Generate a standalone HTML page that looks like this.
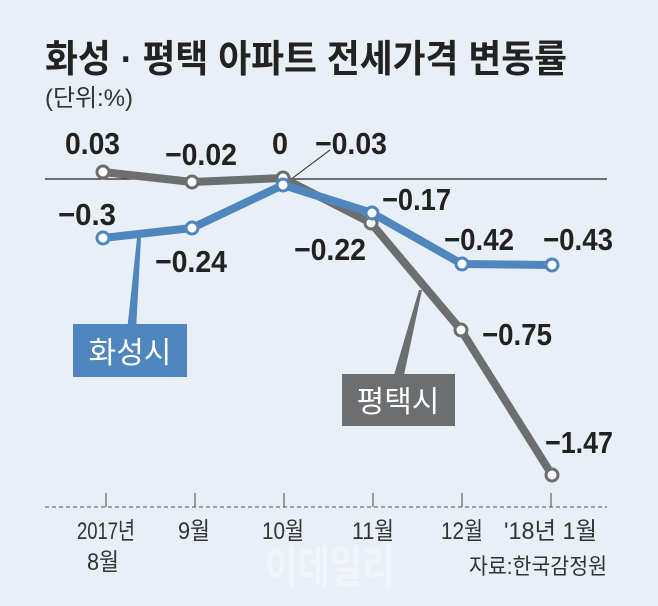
<!DOCTYPE html>
<html><head><meta charset="utf-8"><style>
html,body{margin:0;padding:0;background:#e8eff6;}
svg{display:block}
text{font-family:"Liberation Sans","Noto Sans CJK KR",sans-serif;}
</style></head><body>
<svg width="658" height="606" viewBox="0 0 658 606" xmlns="http://www.w3.org/2000/svg">
<rect width="658" height="606" fill="#e8eff6"/>
<text x="45" y="72" font-size="38" font-weight="bold" fill="#222" textLength="522" lengthAdjust="spacingAndGlyphs">화성 · 평택 아파트 전세가격 변동률</text>
<text x="45" y="106" font-size="24" fill="#333" textLength="88" lengthAdjust="spacingAndGlyphs">(단위:%)</text>
<line x1="45" y1="179" x2="607" y2="179" stroke="#222" stroke-width="1.3"/>
<line x1="45" y1="507" x2="607" y2="507" stroke="#555" stroke-width="1" stroke-dasharray="4,3"/>
<g stroke="#444" stroke-width="1">
<line x1="106" y1="493" x2="106" y2="507"/><line x1="195" y1="493" x2="195" y2="507"/><line x1="284" y1="493" x2="284" y2="507"/><line x1="373" y1="493" x2="373" y2="507"/><line x1="462" y1="493" x2="462" y2="507"/><line x1="551" y1="493" x2="551" y2="507"/>
</g>
<line x1="282" y1="186" x2="330" y2="150" stroke="#222" stroke-width="1"/>
<polygon points="137,238 141,238 136,331 127,331" fill="#4f86bd"/>
<polygon points="419,290 422,290 404,375 394,375" fill="#6d6e70"/>
<polyline points="103,172 192,182 283,178 371,223 461,330 552,475" fill="none" stroke="#6d6e70" stroke-width="8" stroke-linejoin="round"/>
<g fill="#fff" stroke="#6d6e70" stroke-width="3">
<circle cx="103" cy="172" r="6"/><circle cx="192" cy="182" r="6"/><circle cx="283" cy="178" r="6"/><circle cx="371" cy="223" r="6"/><circle cx="461" cy="330" r="6"/><circle cx="552" cy="475" r="6"/>
</g>
<polyline points="103,238 192,228 283,185 372,213 462,264 552,265" fill="none" stroke="#4f86bd" stroke-width="8" stroke-linejoin="round"/>
<g fill="#fff" stroke="#4f86bd" stroke-width="3">
<circle cx="103" cy="238" r="6"/><circle cx="192" cy="228" r="6"/><circle cx="283" cy="185" r="6"/><circle cx="372" cy="213" r="6"/><circle cx="462" cy="264" r="6"/><circle cx="552" cy="265" r="6"/>
</g>
<g font-size="31" font-weight="bold" fill="#222">
<text x="65" y="154" textLength="55" lengthAdjust="spacingAndGlyphs">0.03</text>
<text x="165" y="165" textLength="72" lengthAdjust="spacingAndGlyphs">−0.02</text>
<text x="272" y="154" textLength="16" lengthAdjust="spacingAndGlyphs">0</text>
<text x="315" y="154" textLength="72" lengthAdjust="spacingAndGlyphs">−0.03</text>
<text x="58" y="225" textLength="58" lengthAdjust="spacingAndGlyphs">−0.3</text>
<text x="155" y="272" textLength="72" lengthAdjust="spacingAndGlyphs">−0.24</text>
<text x="294" y="260" textLength="72" lengthAdjust="spacingAndGlyphs">−0.22</text>
<text x="382" y="210" textLength="69" lengthAdjust="spacingAndGlyphs">−0.17</text>
<text x="444" y="250" textLength="70" lengthAdjust="spacingAndGlyphs">−0.42</text>
<text x="543" y="250" textLength="70" lengthAdjust="spacingAndGlyphs">−0.43</text>
<text x="482" y="345" textLength="70" lengthAdjust="spacingAndGlyphs">−0.75</text>
<text x="545" y="453" textLength="68" lengthAdjust="spacingAndGlyphs">−1.47</text>
</g>
<rect x="73" y="324" width="114" height="53" fill="#4f86bd"/>
<text x="130" y="363" font-size="30" fill="#fff" text-anchor="middle">화성시</text>
<rect x="342" y="374" width="113" height="52" fill="#6d6e70"/>
<text x="398" y="412" font-size="30" fill="#fff" text-anchor="middle">평택시</text>
<g font-size="24" fill="#333" text-anchor="middle">
<text x="106" y="539" textLength="58" lengthAdjust="spacingAndGlyphs">2017년</text>
<text x="87" y="570" text-anchor="start" textLength="32" lengthAdjust="spacingAndGlyphs">8월</text>
<text x="178" y="539" text-anchor="start" textLength="32" lengthAdjust="spacingAndGlyphs">9월</text>
<text x="262" y="539" text-anchor="start" textLength="42" lengthAdjust="spacingAndGlyphs">10월</text>
<text x="352" y="539" text-anchor="start" textLength="42" lengthAdjust="spacingAndGlyphs">11월</text>
<text x="441" y="539" text-anchor="start" textLength="42" lengthAdjust="spacingAndGlyphs">12월</text>
<text x="504" y="539" text-anchor="start" textLength="93" lengthAdjust="spacingAndGlyphs">'18년 1월</text>
</g>
<text x="330" y="582" font-size="44" font-weight="bold" fill="#f1f5fa" text-anchor="middle" textLength="130" lengthAdjust="spacingAndGlyphs">이데일리</text>
<text x="607" y="574" font-size="22" fill="#333" text-anchor="end" textLength="138" lengthAdjust="spacingAndGlyphs">자료:한국감정원</text>
</svg>
</body></html>
